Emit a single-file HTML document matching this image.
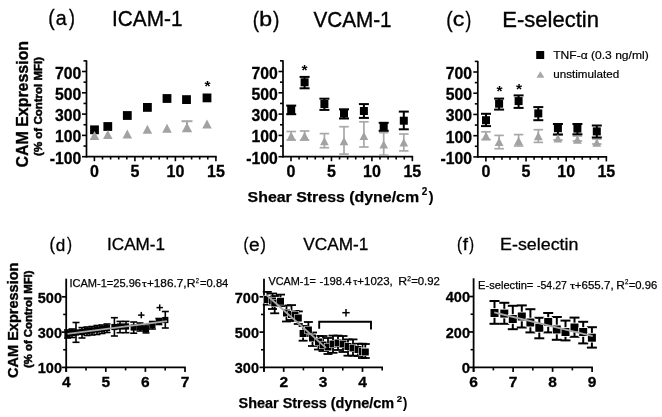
<!DOCTYPE html>
<html><head><meta charset="utf-8"><style>
html,body{margin:0;padding:0;background:#fff;}
svg{display:block;font-family:"Liberation Sans", sans-serif;will-change:transform;}
</style></head><body>
<svg width="662" height="417" viewBox="0 0 662 417">
<rect width="662" height="417" fill="#fff"/>
<line x1="86.50" y1="60.35" x2="86.50" y2="157.50" stroke="#000" stroke-width="1.7"/>
<line x1="85.70" y1="156.70" x2="216.70" y2="156.70" stroke="#000" stroke-width="1.7"/>
<line x1="82.00" y1="156.70" x2="86.50" y2="156.70" stroke="#000" stroke-width="1.6"/>
<line x1="83.50" y1="146.05" x2="86.50" y2="146.05" stroke="#000" stroke-width="1.6"/>
<line x1="82.00" y1="135.40" x2="86.50" y2="135.40" stroke="#000" stroke-width="1.6"/>
<line x1="83.50" y1="124.75" x2="86.50" y2="124.75" stroke="#000" stroke-width="1.6"/>
<line x1="82.00" y1="114.10" x2="86.50" y2="114.10" stroke="#000" stroke-width="1.6"/>
<line x1="83.50" y1="103.45" x2="86.50" y2="103.45" stroke="#000" stroke-width="1.6"/>
<line x1="82.00" y1="92.80" x2="86.50" y2="92.80" stroke="#000" stroke-width="1.6"/>
<line x1="83.50" y1="82.15" x2="86.50" y2="82.15" stroke="#000" stroke-width="1.6"/>
<line x1="82.00" y1="71.50" x2="86.50" y2="71.50" stroke="#000" stroke-width="1.6"/>
<line x1="83.50" y1="60.85" x2="86.50" y2="60.85" stroke="#000" stroke-width="1.6"/>
<line x1="94.40" y1="156.70" x2="94.40" y2="161.20" stroke="#000" stroke-width="1.6"/>
<line x1="102.50" y1="156.70" x2="102.50" y2="159.50" stroke="#000" stroke-width="1.6"/>
<line x1="110.60" y1="156.70" x2="110.60" y2="159.50" stroke="#000" stroke-width="1.6"/>
<line x1="118.70" y1="156.70" x2="118.70" y2="159.50" stroke="#000" stroke-width="1.6"/>
<line x1="126.80" y1="156.70" x2="126.80" y2="159.50" stroke="#000" stroke-width="1.6"/>
<line x1="134.90" y1="156.70" x2="134.90" y2="161.20" stroke="#000" stroke-width="1.6"/>
<line x1="143.00" y1="156.70" x2="143.00" y2="159.50" stroke="#000" stroke-width="1.6"/>
<line x1="151.10" y1="156.70" x2="151.10" y2="159.50" stroke="#000" stroke-width="1.6"/>
<line x1="159.20" y1="156.70" x2="159.20" y2="159.50" stroke="#000" stroke-width="1.6"/>
<line x1="167.30" y1="156.70" x2="167.30" y2="159.50" stroke="#000" stroke-width="1.6"/>
<line x1="175.40" y1="156.70" x2="175.40" y2="161.20" stroke="#000" stroke-width="1.6"/>
<line x1="183.50" y1="156.70" x2="183.50" y2="159.50" stroke="#000" stroke-width="1.6"/>
<line x1="191.60" y1="156.70" x2="191.60" y2="159.50" stroke="#000" stroke-width="1.6"/>
<line x1="199.70" y1="156.70" x2="199.70" y2="159.50" stroke="#000" stroke-width="1.6"/>
<line x1="207.80" y1="156.70" x2="207.80" y2="159.50" stroke="#000" stroke-width="1.6"/>
<line x1="215.90" y1="156.70" x2="215.90" y2="161.20" stroke="#000" stroke-width="1.6"/>
<text x="81.3" y="78.5" font-size="16" font-weight="bold" text-anchor="end" textLength="26.3" lengthAdjust="spacingAndGlyphs" fill="#000" stroke="#000" stroke-width="0.3">700</text>
<text x="81.3" y="99.8" font-size="16" font-weight="bold" text-anchor="end" textLength="26.3" lengthAdjust="spacingAndGlyphs" fill="#000" stroke="#000" stroke-width="0.3">500</text>
<text x="81.3" y="121.1" font-size="16" font-weight="bold" text-anchor="end" textLength="26.3" lengthAdjust="spacingAndGlyphs" fill="#000" stroke="#000" stroke-width="0.3">300</text>
<text x="81.3" y="142.4" font-size="16" font-weight="bold" text-anchor="end" textLength="26.3" lengthAdjust="spacingAndGlyphs" fill="#000" stroke="#000" stroke-width="0.3">100</text>
<text x="81.3" y="163.7" font-size="16" font-weight="bold" text-anchor="end" textLength="31.5" lengthAdjust="spacingAndGlyphs" fill="#000" stroke="#000" stroke-width="0.3">-100</text>
<text x="94.4" y="177.4" font-size="16" font-weight="bold" text-anchor="middle" fill="#000" stroke="#000" stroke-width="0.3">0</text>
<text x="134.9" y="177.4" font-size="16" font-weight="bold" text-anchor="middle" fill="#000" stroke="#000" stroke-width="0.3">5</text>
<text x="175.4" y="177.4" font-size="16" font-weight="bold" text-anchor="middle" fill="#000" stroke="#000" stroke-width="0.3">10</text>
<text x="215.9" y="177.4" font-size="16" font-weight="bold" text-anchor="middle" fill="#000" stroke="#000" stroke-width="0.3">15</text>
<line x1="187.00" y1="121.20" x2="187.00" y2="126.00" stroke="#a8a8a8" stroke-width="2"/>
<line x1="181.50" y1="121.20" x2="192.50" y2="121.20" stroke="#a8a8a8" stroke-width="2"/>
<rect x="90.10" y="125.40" width="8.8" height="8.8" fill="#000"/>
<rect x="103.40" y="122.10" width="8.8" height="8.8" fill="#000"/>
<rect x="122.90" y="111.10" width="8.8" height="8.8" fill="#000"/>
<rect x="143.00" y="103.00" width="8.8" height="8.8" fill="#000"/>
<rect x="162.60" y="94.10" width="8.8" height="8.8" fill="#000"/>
<rect x="182.10" y="95.20" width="8.8" height="8.8" fill="#000"/>
<rect x="202.60" y="93.50" width="8.8" height="8.8" fill="#000"/>
<polygon points="89.75,140.00 99.25,140.00 94.50,131.00" fill="#a2a2a2"/>
<polygon points="103.05,139.00 112.55,139.00 107.80,130.00" fill="#a2a2a2"/>
<polygon points="122.55,138.50 132.05,138.50 127.30,129.50" fill="#a2a2a2"/>
<polygon points="142.65,133.70 152.15,133.70 147.40,124.70" fill="#a2a2a2"/>
<polygon points="162.25,132.70 171.75,132.70 167.00,123.70" fill="#a2a2a2"/>
<polygon points="181.75,132.25 192.25,132.25 187.00,122.75" fill="#a2a2a2"/>
<polygon points="202.25,128.40 211.75,128.40 207.00,119.40" fill="#a2a2a2"/>
<text x="207.4" y="91.1" font-size="15.5" font-weight="bold" text-anchor="middle" fill="#000">*</text>
<line x1="283.00" y1="60.35" x2="283.00" y2="157.50" stroke="#000" stroke-width="1.7"/>
<line x1="282.20" y1="156.70" x2="413.15" y2="156.70" stroke="#000" stroke-width="1.7"/>
<line x1="278.50" y1="156.70" x2="283.00" y2="156.70" stroke="#000" stroke-width="1.6"/>
<line x1="280.00" y1="146.05" x2="283.00" y2="146.05" stroke="#000" stroke-width="1.6"/>
<line x1="278.50" y1="135.40" x2="283.00" y2="135.40" stroke="#000" stroke-width="1.6"/>
<line x1="280.00" y1="124.75" x2="283.00" y2="124.75" stroke="#000" stroke-width="1.6"/>
<line x1="278.50" y1="114.10" x2="283.00" y2="114.10" stroke="#000" stroke-width="1.6"/>
<line x1="280.00" y1="103.45" x2="283.00" y2="103.45" stroke="#000" stroke-width="1.6"/>
<line x1="278.50" y1="92.80" x2="283.00" y2="92.80" stroke="#000" stroke-width="1.6"/>
<line x1="280.00" y1="82.15" x2="283.00" y2="82.15" stroke="#000" stroke-width="1.6"/>
<line x1="278.50" y1="71.50" x2="283.00" y2="71.50" stroke="#000" stroke-width="1.6"/>
<line x1="280.00" y1="60.85" x2="283.00" y2="60.85" stroke="#000" stroke-width="1.6"/>
<line x1="291.00" y1="156.70" x2="291.00" y2="161.20" stroke="#000" stroke-width="1.6"/>
<line x1="299.09" y1="156.70" x2="299.09" y2="159.50" stroke="#000" stroke-width="1.6"/>
<line x1="307.18" y1="156.70" x2="307.18" y2="159.50" stroke="#000" stroke-width="1.6"/>
<line x1="315.27" y1="156.70" x2="315.27" y2="159.50" stroke="#000" stroke-width="1.6"/>
<line x1="323.36" y1="156.70" x2="323.36" y2="159.50" stroke="#000" stroke-width="1.6"/>
<line x1="331.45" y1="156.70" x2="331.45" y2="161.20" stroke="#000" stroke-width="1.6"/>
<line x1="339.54" y1="156.70" x2="339.54" y2="159.50" stroke="#000" stroke-width="1.6"/>
<line x1="347.63" y1="156.70" x2="347.63" y2="159.50" stroke="#000" stroke-width="1.6"/>
<line x1="355.72" y1="156.70" x2="355.72" y2="159.50" stroke="#000" stroke-width="1.6"/>
<line x1="363.81" y1="156.70" x2="363.81" y2="159.50" stroke="#000" stroke-width="1.6"/>
<line x1="371.90" y1="156.70" x2="371.90" y2="161.20" stroke="#000" stroke-width="1.6"/>
<line x1="379.99" y1="156.70" x2="379.99" y2="159.50" stroke="#000" stroke-width="1.6"/>
<line x1="388.08" y1="156.70" x2="388.08" y2="159.50" stroke="#000" stroke-width="1.6"/>
<line x1="396.17" y1="156.70" x2="396.17" y2="159.50" stroke="#000" stroke-width="1.6"/>
<line x1="404.26" y1="156.70" x2="404.26" y2="159.50" stroke="#000" stroke-width="1.6"/>
<line x1="412.35" y1="156.70" x2="412.35" y2="161.20" stroke="#000" stroke-width="1.6"/>
<text x="277.8" y="78.5" font-size="16" font-weight="bold" text-anchor="end" textLength="26.3" lengthAdjust="spacingAndGlyphs" fill="#000" stroke="#000" stroke-width="0.3">700</text>
<text x="277.8" y="99.8" font-size="16" font-weight="bold" text-anchor="end" textLength="26.3" lengthAdjust="spacingAndGlyphs" fill="#000" stroke="#000" stroke-width="0.3">500</text>
<text x="277.8" y="121.1" font-size="16" font-weight="bold" text-anchor="end" textLength="26.3" lengthAdjust="spacingAndGlyphs" fill="#000" stroke="#000" stroke-width="0.3">300</text>
<text x="277.8" y="142.4" font-size="16" font-weight="bold" text-anchor="end" textLength="26.3" lengthAdjust="spacingAndGlyphs" fill="#000" stroke="#000" stroke-width="0.3">100</text>
<text x="277.8" y="163.7" font-size="16" font-weight="bold" text-anchor="end" textLength="31.5" lengthAdjust="spacingAndGlyphs" fill="#000" stroke="#000" stroke-width="0.3">-100</text>
<text x="291.0" y="177.4" font-size="16" font-weight="bold" text-anchor="middle" fill="#000" stroke="#000" stroke-width="0.3">0</text>
<text x="331.45" y="177.4" font-size="16" font-weight="bold" text-anchor="middle" fill="#000" stroke="#000" stroke-width="0.3">5</text>
<text x="371.9" y="177.4" font-size="16" font-weight="bold" text-anchor="middle" fill="#000" stroke="#000" stroke-width="0.3">10</text>
<text x="412.35" y="177.4" font-size="16" font-weight="bold" text-anchor="middle" fill="#000" stroke="#000" stroke-width="0.3">15</text>
<line x1="291.20" y1="131.50" x2="291.20" y2="140.10" stroke="#a8a8a8" stroke-width="1.7"/>
<line x1="286.45" y1="131.50" x2="295.95" y2="131.50" stroke="#a8a8a8" stroke-width="1.7"/>
<line x1="286.45" y1="140.10" x2="295.95" y2="140.10" stroke="#a8a8a8" stroke-width="1.7"/>
<line x1="304.60" y1="131.00" x2="304.60" y2="140.10" stroke="#a8a8a8" stroke-width="1.7"/>
<line x1="299.85" y1="131.00" x2="309.35" y2="131.00" stroke="#a8a8a8" stroke-width="1.7"/>
<line x1="299.85" y1="140.10" x2="309.35" y2="140.10" stroke="#a8a8a8" stroke-width="1.7"/>
<line x1="324.40" y1="133.60" x2="324.40" y2="147.70" stroke="#a8a8a8" stroke-width="1.7"/>
<line x1="319.65" y1="133.60" x2="329.15" y2="133.60" stroke="#a8a8a8" stroke-width="1.7"/>
<line x1="319.65" y1="147.70" x2="329.15" y2="147.70" stroke="#a8a8a8" stroke-width="1.7"/>
<line x1="344.00" y1="126.70" x2="344.00" y2="154.10" stroke="#a8a8a8" stroke-width="1.7"/>
<line x1="339.25" y1="126.70" x2="348.75" y2="126.70" stroke="#a8a8a8" stroke-width="1.7"/>
<line x1="339.25" y1="154.10" x2="348.75" y2="154.10" stroke="#a8a8a8" stroke-width="1.7"/>
<line x1="363.90" y1="121.80" x2="363.90" y2="147.00" stroke="#a8a8a8" stroke-width="1.7"/>
<line x1="359.15" y1="121.80" x2="368.65" y2="121.80" stroke="#a8a8a8" stroke-width="1.7"/>
<line x1="359.15" y1="147.00" x2="368.65" y2="147.00" stroke="#a8a8a8" stroke-width="1.7"/>
<line x1="383.70" y1="132.60" x2="383.70" y2="155.20" stroke="#a8a8a8" stroke-width="1.7"/>
<line x1="378.95" y1="132.60" x2="388.45" y2="132.60" stroke="#a8a8a8" stroke-width="1.7"/>
<line x1="378.95" y1="155.20" x2="388.45" y2="155.20" stroke="#a8a8a8" stroke-width="1.7"/>
<line x1="403.80" y1="134.00" x2="403.80" y2="150.90" stroke="#a8a8a8" stroke-width="1.7"/>
<line x1="399.05" y1="134.00" x2="408.55" y2="134.00" stroke="#a8a8a8" stroke-width="1.7"/>
<line x1="399.05" y1="150.90" x2="408.55" y2="150.90" stroke="#a8a8a8" stroke-width="1.7"/>
<rect x="286.40" y="105.10" width="9.6" height="9.6" fill="#fff"/>
<rect x="287.20" y="105.90" width="8.0" height="8.0" fill="#000"/>
<rect x="299.80" y="77.50" width="9.6" height="9.6" fill="#fff"/>
<rect x="300.60" y="78.30" width="8.0" height="8.0" fill="#000"/>
<rect x="319.60" y="99.20" width="9.6" height="9.6" fill="#fff"/>
<rect x="320.40" y="100.00" width="8.0" height="8.0" fill="#000"/>
<rect x="339.20" y="108.80" width="9.6" height="9.6" fill="#fff"/>
<rect x="340.00" y="109.60" width="8.0" height="8.0" fill="#000"/>
<rect x="359.10" y="106.20" width="9.6" height="9.6" fill="#fff"/>
<rect x="359.90" y="107.00" width="8.0" height="8.0" fill="#000"/>
<rect x="378.90" y="121.70" width="9.6" height="9.6" fill="#fff"/>
<rect x="379.70" y="122.50" width="8.0" height="8.0" fill="#000"/>
<rect x="399.00" y="115.90" width="9.6" height="9.6" fill="#fff"/>
<rect x="399.80" y="116.70" width="8.0" height="8.0" fill="#000"/>
<line x1="291.20" y1="105.60" x2="291.20" y2="114.20" stroke="#000" stroke-width="2"/>
<line x1="286.20" y1="105.60" x2="296.20" y2="105.60" stroke="#000" stroke-width="2"/>
<line x1="286.20" y1="114.20" x2="296.20" y2="114.20" stroke="#000" stroke-width="2"/>
<line x1="304.60" y1="76.90" x2="304.60" y2="88.30" stroke="#000" stroke-width="2"/>
<line x1="299.60" y1="76.90" x2="309.60" y2="76.90" stroke="#000" stroke-width="2"/>
<line x1="299.60" y1="88.30" x2="309.60" y2="88.30" stroke="#000" stroke-width="2"/>
<line x1="324.40" y1="98.70" x2="324.40" y2="109.90" stroke="#000" stroke-width="2"/>
<line x1="319.40" y1="98.70" x2="329.40" y2="98.70" stroke="#000" stroke-width="2"/>
<line x1="319.40" y1="109.90" x2="329.40" y2="109.90" stroke="#000" stroke-width="2"/>
<line x1="344.00" y1="109.30" x2="344.00" y2="118.50" stroke="#000" stroke-width="2"/>
<line x1="339.00" y1="109.30" x2="349.00" y2="109.30" stroke="#000" stroke-width="2"/>
<line x1="339.00" y1="118.50" x2="349.00" y2="118.50" stroke="#000" stroke-width="2"/>
<line x1="363.90" y1="104.10" x2="363.90" y2="117.90" stroke="#000" stroke-width="2"/>
<line x1="358.90" y1="104.10" x2="368.90" y2="104.10" stroke="#000" stroke-width="2"/>
<line x1="358.90" y1="117.90" x2="368.90" y2="117.90" stroke="#000" stroke-width="2"/>
<line x1="383.70" y1="122.80" x2="383.70" y2="130.80" stroke="#000" stroke-width="2"/>
<line x1="378.70" y1="122.80" x2="388.70" y2="122.80" stroke="#000" stroke-width="2"/>
<line x1="378.70" y1="130.80" x2="388.70" y2="130.80" stroke="#000" stroke-width="2"/>
<line x1="403.80" y1="111.60" x2="403.80" y2="129.30" stroke="#000" stroke-width="2"/>
<line x1="398.80" y1="111.60" x2="408.80" y2="111.60" stroke="#000" stroke-width="2"/>
<line x1="398.80" y1="129.30" x2="408.80" y2="129.30" stroke="#000" stroke-width="2"/>
<polygon points="286.90,139.90 295.50,139.90 291.20,131.70" fill="#a2a2a2"/>
<polygon points="300.30,139.90 308.90,139.90 304.60,131.70" fill="#a2a2a2"/>
<polygon points="320.10,145.30 328.70,145.30 324.40,137.10" fill="#a2a2a2"/>
<polygon points="339.70,145.30 348.30,145.30 344.00,137.10" fill="#a2a2a2"/>
<polygon points="359.60,139.90 368.20,139.90 363.90,131.70" fill="#a2a2a2"/>
<polygon points="379.40,148.50 388.00,148.50 383.70,140.30" fill="#a2a2a2"/>
<polygon points="399.50,146.40 408.10,146.40 403.80,138.20" fill="#a2a2a2"/>
<text x="304.4" y="75.0" font-size="15.5" font-weight="bold" text-anchor="middle" fill="#000">*</text>
<line x1="477.80" y1="60.89" x2="477.80" y2="157.70" stroke="#000" stroke-width="1.7"/>
<line x1="477.00" y1="156.90" x2="607.15" y2="156.90" stroke="#000" stroke-width="1.7"/>
<line x1="473.30" y1="156.90" x2="477.80" y2="156.90" stroke="#000" stroke-width="1.6"/>
<line x1="474.80" y1="146.29" x2="477.80" y2="146.29" stroke="#000" stroke-width="1.6"/>
<line x1="473.30" y1="135.68" x2="477.80" y2="135.68" stroke="#000" stroke-width="1.6"/>
<line x1="474.80" y1="125.06" x2="477.80" y2="125.06" stroke="#000" stroke-width="1.6"/>
<line x1="473.30" y1="114.45" x2="477.80" y2="114.45" stroke="#000" stroke-width="1.6"/>
<line x1="474.80" y1="103.84" x2="477.80" y2="103.84" stroke="#000" stroke-width="1.6"/>
<line x1="473.30" y1="93.22" x2="477.80" y2="93.22" stroke="#000" stroke-width="1.6"/>
<line x1="474.80" y1="82.61" x2="477.80" y2="82.61" stroke="#000" stroke-width="1.6"/>
<line x1="473.30" y1="72.00" x2="477.80" y2="72.00" stroke="#000" stroke-width="1.6"/>
<line x1="474.80" y1="61.39" x2="477.80" y2="61.39" stroke="#000" stroke-width="1.6"/>
<line x1="485.90" y1="156.90" x2="485.90" y2="161.40" stroke="#000" stroke-width="1.6"/>
<line x1="493.93" y1="156.90" x2="493.93" y2="159.70" stroke="#000" stroke-width="1.6"/>
<line x1="501.96" y1="156.90" x2="501.96" y2="159.70" stroke="#000" stroke-width="1.6"/>
<line x1="509.99" y1="156.90" x2="509.99" y2="159.70" stroke="#000" stroke-width="1.6"/>
<line x1="518.02" y1="156.90" x2="518.02" y2="159.70" stroke="#000" stroke-width="1.6"/>
<line x1="526.05" y1="156.90" x2="526.05" y2="161.40" stroke="#000" stroke-width="1.6"/>
<line x1="534.08" y1="156.90" x2="534.08" y2="159.70" stroke="#000" stroke-width="1.6"/>
<line x1="542.11" y1="156.90" x2="542.11" y2="159.70" stroke="#000" stroke-width="1.6"/>
<line x1="550.14" y1="156.90" x2="550.14" y2="159.70" stroke="#000" stroke-width="1.6"/>
<line x1="558.17" y1="156.90" x2="558.17" y2="159.70" stroke="#000" stroke-width="1.6"/>
<line x1="566.20" y1="156.90" x2="566.20" y2="161.40" stroke="#000" stroke-width="1.6"/>
<line x1="574.23" y1="156.90" x2="574.23" y2="159.70" stroke="#000" stroke-width="1.6"/>
<line x1="582.26" y1="156.90" x2="582.26" y2="159.70" stroke="#000" stroke-width="1.6"/>
<line x1="590.29" y1="156.90" x2="590.29" y2="159.70" stroke="#000" stroke-width="1.6"/>
<line x1="598.32" y1="156.90" x2="598.32" y2="159.70" stroke="#000" stroke-width="1.6"/>
<line x1="606.35" y1="156.90" x2="606.35" y2="161.40" stroke="#000" stroke-width="1.6"/>
<text x="472.0" y="79.0" font-size="16" font-weight="bold" text-anchor="end" textLength="26.3" lengthAdjust="spacingAndGlyphs" fill="#000" stroke="#000" stroke-width="0.3">700</text>
<text x="472.0" y="100.22" font-size="16" font-weight="bold" text-anchor="end" textLength="26.3" lengthAdjust="spacingAndGlyphs" fill="#000" stroke="#000" stroke-width="0.3">500</text>
<text x="472.0" y="121.45" font-size="16" font-weight="bold" text-anchor="end" textLength="26.3" lengthAdjust="spacingAndGlyphs" fill="#000" stroke="#000" stroke-width="0.3">300</text>
<text x="472.0" y="142.68" font-size="16" font-weight="bold" text-anchor="end" textLength="26.3" lengthAdjust="spacingAndGlyphs" fill="#000" stroke="#000" stroke-width="0.3">100</text>
<text x="472.0" y="163.9" font-size="16" font-weight="bold" text-anchor="end" textLength="31.5" lengthAdjust="spacingAndGlyphs" fill="#000" stroke="#000" stroke-width="0.3">-100</text>
<text x="485.9" y="177.4" font-size="16" font-weight="bold" text-anchor="middle" fill="#000" stroke="#000" stroke-width="0.3">0</text>
<text x="526.05" y="177.4" font-size="16" font-weight="bold" text-anchor="middle" fill="#000" stroke="#000" stroke-width="0.3">5</text>
<text x="566.2" y="177.4" font-size="16" font-weight="bold" text-anchor="middle" fill="#000" stroke="#000" stroke-width="0.3">10</text>
<text x="606.35" y="177.4" font-size="16" font-weight="bold" text-anchor="middle" fill="#000" stroke="#000" stroke-width="0.3">15</text>
<line x1="486.00" y1="131.80" x2="486.00" y2="139.60" stroke="#a8a8a8" stroke-width="1.7"/>
<line x1="481.25" y1="131.80" x2="490.75" y2="131.80" stroke="#a8a8a8" stroke-width="1.7"/>
<line x1="481.25" y1="139.60" x2="490.75" y2="139.60" stroke="#a8a8a8" stroke-width="1.7"/>
<line x1="499.10" y1="135.40" x2="499.10" y2="148.70" stroke="#a8a8a8" stroke-width="1.7"/>
<line x1="494.35" y1="135.40" x2="503.85" y2="135.40" stroke="#a8a8a8" stroke-width="1.7"/>
<line x1="494.35" y1="148.70" x2="503.85" y2="148.70" stroke="#a8a8a8" stroke-width="1.7"/>
<line x1="518.60" y1="134.60" x2="518.60" y2="146.00" stroke="#a8a8a8" stroke-width="1.7"/>
<line x1="513.85" y1="134.60" x2="523.35" y2="134.60" stroke="#a8a8a8" stroke-width="1.7"/>
<line x1="513.85" y1="146.00" x2="523.35" y2="146.00" stroke="#a8a8a8" stroke-width="1.7"/>
<line x1="538.30" y1="129.70" x2="538.30" y2="142.40" stroke="#a8a8a8" stroke-width="1.7"/>
<line x1="533.55" y1="129.70" x2="543.05" y2="129.70" stroke="#a8a8a8" stroke-width="1.7"/>
<line x1="533.55" y1="142.40" x2="543.05" y2="142.40" stroke="#a8a8a8" stroke-width="1.7"/>
<line x1="557.90" y1="133.00" x2="557.90" y2="140.00" stroke="#a8a8a8" stroke-width="1.7"/>
<line x1="553.15" y1="133.00" x2="562.65" y2="133.00" stroke="#a8a8a8" stroke-width="1.7"/>
<line x1="553.15" y1="140.00" x2="562.65" y2="140.00" stroke="#a8a8a8" stroke-width="1.7"/>
<line x1="577.40" y1="136.00" x2="577.40" y2="141.00" stroke="#a8a8a8" stroke-width="1.7"/>
<line x1="572.65" y1="136.00" x2="582.15" y2="136.00" stroke="#a8a8a8" stroke-width="1.7"/>
<line x1="572.65" y1="141.00" x2="582.15" y2="141.00" stroke="#a8a8a8" stroke-width="1.7"/>
<line x1="596.80" y1="139.00" x2="596.80" y2="144.00" stroke="#a8a8a8" stroke-width="1.7"/>
<line x1="592.05" y1="139.00" x2="601.55" y2="139.00" stroke="#a8a8a8" stroke-width="1.7"/>
<line x1="592.05" y1="144.00" x2="601.55" y2="144.00" stroke="#a8a8a8" stroke-width="1.7"/>
<rect x="481.20" y="115.40" width="9.6" height="9.6" fill="#fff"/>
<rect x="482.00" y="116.20" width="8.0" height="8.0" fill="#000"/>
<rect x="494.30" y="98.90" width="9.6" height="9.6" fill="#fff"/>
<rect x="495.10" y="99.70" width="8.0" height="8.0" fill="#000"/>
<rect x="513.80" y="96.30" width="9.6" height="9.6" fill="#fff"/>
<rect x="514.60" y="97.10" width="8.0" height="8.0" fill="#000"/>
<rect x="533.50" y="108.60" width="9.6" height="9.6" fill="#fff"/>
<rect x="534.30" y="109.40" width="8.0" height="8.0" fill="#000"/>
<rect x="553.10" y="123.40" width="9.6" height="9.6" fill="#fff"/>
<rect x="553.90" y="124.20" width="8.0" height="8.0" fill="#000"/>
<rect x="572.60" y="123.80" width="9.6" height="9.6" fill="#fff"/>
<rect x="573.40" y="124.60" width="8.0" height="8.0" fill="#000"/>
<rect x="592.00" y="126.60" width="9.6" height="9.6" fill="#fff"/>
<rect x="592.80" y="127.40" width="8.0" height="8.0" fill="#000"/>
<line x1="486.00" y1="113.80" x2="486.00" y2="126.10" stroke="#000" stroke-width="2"/>
<line x1="481.00" y1="113.80" x2="491.00" y2="113.80" stroke="#000" stroke-width="2"/>
<line x1="481.00" y1="126.10" x2="491.00" y2="126.10" stroke="#000" stroke-width="2"/>
<line x1="499.10" y1="98.60" x2="499.10" y2="109.60" stroke="#000" stroke-width="2"/>
<line x1="494.10" y1="98.60" x2="504.10" y2="98.60" stroke="#000" stroke-width="2"/>
<line x1="494.10" y1="109.60" x2="504.10" y2="109.60" stroke="#000" stroke-width="2"/>
<line x1="518.60" y1="95.40" x2="518.60" y2="107.90" stroke="#000" stroke-width="2"/>
<line x1="513.60" y1="95.40" x2="523.60" y2="95.40" stroke="#000" stroke-width="2"/>
<line x1="513.60" y1="107.90" x2="523.60" y2="107.90" stroke="#000" stroke-width="2"/>
<line x1="538.30" y1="107.10" x2="538.30" y2="120.20" stroke="#000" stroke-width="2"/>
<line x1="533.30" y1="107.10" x2="543.30" y2="107.10" stroke="#000" stroke-width="2"/>
<line x1="533.30" y1="120.20" x2="543.30" y2="120.20" stroke="#000" stroke-width="2"/>
<line x1="557.90" y1="124.00" x2="557.90" y2="134.60" stroke="#000" stroke-width="2"/>
<line x1="552.90" y1="124.00" x2="562.90" y2="124.00" stroke="#000" stroke-width="2"/>
<line x1="552.90" y1="134.60" x2="562.90" y2="134.60" stroke="#000" stroke-width="2"/>
<line x1="577.40" y1="124.00" x2="577.40" y2="134.30" stroke="#000" stroke-width="2"/>
<line x1="572.40" y1="124.00" x2="582.40" y2="124.00" stroke="#000" stroke-width="2"/>
<line x1="572.40" y1="134.30" x2="582.40" y2="134.30" stroke="#000" stroke-width="2"/>
<line x1="596.80" y1="125.50" x2="596.80" y2="137.50" stroke="#000" stroke-width="2"/>
<line x1="591.80" y1="125.50" x2="601.80" y2="125.50" stroke="#000" stroke-width="2"/>
<line x1="591.80" y1="137.50" x2="601.80" y2="137.50" stroke="#000" stroke-width="2"/>
<polygon points="481.60,140.20 490.40,140.20 486.00,131.80" fill="#a2a2a2"/>
<polygon points="494.70,145.90 503.50,145.90 499.10,137.50" fill="#a2a2a2"/>
<polygon points="514.20,145.10 523.00,145.10 518.60,136.70" fill="#a2a2a2"/>
<polygon points="533.90,140.20 542.70,140.20 538.30,131.80" fill="#a2a2a2"/>
<polygon points="553.50,142.40 562.30,142.40 557.90,134.00" fill="#a2a2a2"/>
<polygon points="573.00,143.70 581.80,143.70 577.40,135.30" fill="#a2a2a2"/>
<polygon points="592.40,146.80 601.20,146.80 596.80,138.40" fill="#a2a2a2"/>
<text x="499.4" y="95.5" font-size="15.5" font-weight="bold" text-anchor="middle" fill="#000">*</text>
<text x="519.0" y="94.19999999999999" font-size="15.5" font-weight="bold" text-anchor="middle" fill="#000">*</text>
<rect x="536.20" y="51.00" width="8" height="8" fill="#000"/>
<text x="553.2" y="58.6" font-size="11.5" text-anchor="start" textLength="95.5" lengthAdjust="spacingAndGlyphs" fill="#000" stroke="#000" stroke-width="0.2">TNF-α (0.3 ng/ml)</text>
<polygon points="536.40,77.75 544.40,77.75 540.40,71.25" fill="#a8a8a8"/>
<text x="553.2" y="77.6" font-size="11.5" text-anchor="start" textLength="66" lengthAdjust="spacingAndGlyphs" fill="#000" stroke="#000" stroke-width="0.2">unstimulated</text>
<text x="48.15" y="24.9" font-size="21.93" text-anchor="start" textLength="6.41" lengthAdjust="spacingAndGlyphs" fill="#000" stroke="#000" stroke-width="0.35">(</text>
<text x="55.72" y="24.59" font-size="20.91" text-anchor="start" textLength="10.91" lengthAdjust="spacingAndGlyphs" fill="#000" stroke="#000" stroke-width="0.35">a</text>
<text x="69.01" y="24.9" font-size="21.93" text-anchor="start" textLength="5.91" lengthAdjust="spacingAndGlyphs" fill="#000" stroke="#000" stroke-width="0.35">)</text>
<text x="112.1" y="26.4" font-size="21.5" text-anchor="start" textLength="70.4" lengthAdjust="spacingAndGlyphs" fill="#000" stroke="#000" stroke-width="0.35">ICAM-1</text>
<text x="252.87" y="27.0" font-size="21.93" text-anchor="start" textLength="6.28" lengthAdjust="spacingAndGlyphs" fill="#000" stroke="#000" stroke-width="0.35">(</text>
<text x="259.3" y="26.4" font-size="19.59" text-anchor="start" textLength="12.85" lengthAdjust="spacingAndGlyphs" fill="#000" stroke="#000" stroke-width="0.35">b</text>
<text x="272.9" y="27.0" font-size="21.93" text-anchor="start" textLength="6.41" lengthAdjust="spacingAndGlyphs" fill="#000" stroke="#000" stroke-width="0.35">)</text>
<text x="313.4" y="26.8" font-size="21.5" text-anchor="start" textLength="78.2" lengthAdjust="spacingAndGlyphs" fill="#000" stroke="#000" stroke-width="0.35">VCAM-1</text>
<text x="446.15" y="26.93" font-size="22.25" text-anchor="start" textLength="6.41" lengthAdjust="spacingAndGlyphs" fill="#000" stroke="#000" stroke-width="0.35">(</text>
<text x="452.87" y="26.4" font-size="20.36" text-anchor="start" textLength="11.61" lengthAdjust="spacingAndGlyphs" fill="#000" stroke="#000" stroke-width="0.35">c</text>
<text x="465.61" y="26.93" font-size="22.25" text-anchor="start" textLength="5.78" lengthAdjust="spacingAndGlyphs" fill="#000" stroke="#000" stroke-width="0.35">)</text>
<text x="502.3" y="26.6" font-size="21.5" text-anchor="start" textLength="96.7" lengthAdjust="spacingAndGlyphs" fill="#000" stroke="#000" stroke-width="0.35">E-selectin</text>
<text x="28.4" y="167.5" font-size="16" font-weight="bold" text-anchor="start" textLength="126.6" lengthAdjust="spacingAndGlyphs" transform="rotate(-90 28.4 167.5)" fill="#000" stroke="#000" stroke-width="0.35">CAM Expression</text>
<text x="41.6" y="155.9" font-size="11.5" font-weight="bold" text-anchor="start" textLength="99" lengthAdjust="spacingAndGlyphs" transform="rotate(-90 41.6 155.9)" fill="#000" stroke="#000" stroke-width="0.5">(% of Control MFI)</text>
<text x="247.6" y="202.3" font-size="15.5" font-weight="bold" text-anchor="start" textLength="171.5" lengthAdjust="spacingAndGlyphs" fill="#000" stroke="#000" stroke-width="0.25">Shear Stress (dyne/cm</text>
<text x="421.7" y="194.5" font-size="10" font-weight="bold" text-anchor="start" fill="#000" stroke="#000" stroke-width="0.2">2</text>
<text x="428.4" y="202.3" font-size="15.5" font-weight="bold" text-anchor="start" fill="#000">)</text>
<line x1="66.20" y1="278.65" x2="66.20" y2="371.90" stroke="#000" stroke-width="1.8"/>
<line x1="65.40" y1="367.40" x2="185.80" y2="367.40" stroke="#000" stroke-width="1.8"/>
<line x1="61.70" y1="296.80" x2="66.20" y2="296.80" stroke="#000" stroke-width="1.7"/>
<line x1="61.70" y1="332.10" x2="66.20" y2="332.10" stroke="#000" stroke-width="1.7"/>
<line x1="61.70" y1="367.40" x2="66.20" y2="367.40" stroke="#000" stroke-width="1.7"/>
<line x1="63.20" y1="349.75" x2="66.20" y2="349.75" stroke="#000" stroke-width="1.6"/>
<line x1="63.20" y1="314.45" x2="66.20" y2="314.45" stroke="#000" stroke-width="1.6"/>
<line x1="66.20" y1="367.40" x2="66.20" y2="371.90" stroke="#000" stroke-width="1.7"/>
<line x1="105.80" y1="367.40" x2="105.80" y2="371.90" stroke="#000" stroke-width="1.7"/>
<line x1="145.40" y1="367.40" x2="145.40" y2="371.90" stroke="#000" stroke-width="1.7"/>
<line x1="185.00" y1="367.40" x2="185.00" y2="371.90" stroke="#000" stroke-width="1.7"/>
<line x1="86.00" y1="367.40" x2="86.00" y2="370.40" stroke="#000" stroke-width="1.6"/>
<line x1="125.60" y1="367.40" x2="125.60" y2="370.40" stroke="#000" stroke-width="1.6"/>
<line x1="165.20" y1="367.40" x2="165.20" y2="370.40" stroke="#000" stroke-width="1.6"/>
<text x="62.0" y="302.7" font-size="15.5" font-weight="bold" text-anchor="end" textLength="24.2" lengthAdjust="spacingAndGlyphs" fill="#000" stroke="#000" stroke-width="0.3">500</text>
<text x="62.0" y="338.0" font-size="15.5" font-weight="bold" text-anchor="end" textLength="24.2" lengthAdjust="spacingAndGlyphs" fill="#000" stroke="#000" stroke-width="0.3">300</text>
<text x="62.0" y="373.3" font-size="15.5" font-weight="bold" text-anchor="end" textLength="24.2" lengthAdjust="spacingAndGlyphs" fill="#000" stroke="#000" stroke-width="0.3">100</text>
<text x="66.2" y="386.9" font-size="15.5" font-weight="bold" text-anchor="middle" fill="#000" stroke="#000" stroke-width="0.3">4</text>
<text x="105.80000000000001" y="386.9" font-size="15.5" font-weight="bold" text-anchor="middle" fill="#000" stroke="#000" stroke-width="0.3">5</text>
<text x="145.4" y="386.9" font-size="15.5" font-weight="bold" text-anchor="middle" fill="#000" stroke="#000" stroke-width="0.3">6</text>
<text x="185.0" y="386.9" font-size="15.5" font-weight="bold" text-anchor="middle" fill="#000" stroke="#000" stroke-width="0.3">7</text>
<line x1="67.50" y1="330.00" x2="67.50" y2="338.00" stroke="#000" stroke-width="1.6"/>
<line x1="64.00" y1="330.00" x2="71.00" y2="330.00" stroke="#000" stroke-width="1.6"/>
<line x1="64.00" y1="338.00" x2="71.00" y2="338.00" stroke="#000" stroke-width="1.6"/>
<line x1="72.00" y1="329.00" x2="72.00" y2="337.50" stroke="#000" stroke-width="1.6"/>
<line x1="68.50" y1="329.00" x2="75.50" y2="329.00" stroke="#000" stroke-width="1.6"/>
<line x1="68.50" y1="337.50" x2="75.50" y2="337.50" stroke="#000" stroke-width="1.6"/>
<line x1="76.00" y1="322.50" x2="76.00" y2="342.30" stroke="#000" stroke-width="1.6"/>
<line x1="72.50" y1="322.50" x2="79.50" y2="322.50" stroke="#000" stroke-width="1.6"/>
<line x1="72.50" y1="342.30" x2="79.50" y2="342.30" stroke="#000" stroke-width="1.6"/>
<line x1="82.00" y1="327.60" x2="82.00" y2="338.00" stroke="#000" stroke-width="1.6"/>
<line x1="78.50" y1="327.60" x2="85.50" y2="327.60" stroke="#000" stroke-width="1.6"/>
<line x1="78.50" y1="338.00" x2="85.50" y2="338.00" stroke="#000" stroke-width="1.6"/>
<line x1="87.00" y1="327.00" x2="87.00" y2="335.50" stroke="#000" stroke-width="1.6"/>
<line x1="83.50" y1="327.00" x2="90.50" y2="327.00" stroke="#000" stroke-width="1.6"/>
<line x1="83.50" y1="335.50" x2="90.50" y2="335.50" stroke="#000" stroke-width="1.6"/>
<line x1="92.00" y1="326.50" x2="92.00" y2="335.00" stroke="#000" stroke-width="1.6"/>
<line x1="88.50" y1="326.50" x2="95.50" y2="326.50" stroke="#000" stroke-width="1.6"/>
<line x1="88.50" y1="335.00" x2="95.50" y2="335.00" stroke="#000" stroke-width="1.6"/>
<line x1="97.00" y1="325.50" x2="97.00" y2="334.50" stroke="#000" stroke-width="1.6"/>
<line x1="93.50" y1="325.50" x2="100.50" y2="325.50" stroke="#000" stroke-width="1.6"/>
<line x1="93.50" y1="334.50" x2="100.50" y2="334.50" stroke="#000" stroke-width="1.6"/>
<line x1="102.00" y1="325.00" x2="102.00" y2="333.50" stroke="#000" stroke-width="1.6"/>
<line x1="98.50" y1="325.00" x2="105.50" y2="325.00" stroke="#000" stroke-width="1.6"/>
<line x1="98.50" y1="333.50" x2="105.50" y2="333.50" stroke="#000" stroke-width="1.6"/>
<line x1="107.00" y1="324.00" x2="107.00" y2="332.50" stroke="#000" stroke-width="1.6"/>
<line x1="103.50" y1="324.00" x2="110.50" y2="324.00" stroke="#000" stroke-width="1.6"/>
<line x1="103.50" y1="332.50" x2="110.50" y2="332.50" stroke="#000" stroke-width="1.6"/>
<line x1="114.40" y1="317.70" x2="114.40" y2="336.00" stroke="#000" stroke-width="1.6"/>
<line x1="110.90" y1="317.70" x2="117.90" y2="317.70" stroke="#000" stroke-width="1.6"/>
<line x1="110.90" y1="336.00" x2="117.90" y2="336.00" stroke="#000" stroke-width="1.6"/>
<line x1="120.00" y1="321.40" x2="120.00" y2="332.70" stroke="#000" stroke-width="1.6"/>
<line x1="116.50" y1="321.40" x2="123.50" y2="321.40" stroke="#000" stroke-width="1.6"/>
<line x1="116.50" y1="332.70" x2="123.50" y2="332.70" stroke="#000" stroke-width="1.6"/>
<line x1="126.00" y1="321.40" x2="126.00" y2="332.70" stroke="#000" stroke-width="1.6"/>
<line x1="122.50" y1="321.40" x2="129.50" y2="321.40" stroke="#000" stroke-width="1.6"/>
<line x1="122.50" y1="332.70" x2="129.50" y2="332.70" stroke="#000" stroke-width="1.6"/>
<line x1="133.70" y1="322.00" x2="133.70" y2="333.20" stroke="#000" stroke-width="1.6"/>
<line x1="130.20" y1="322.00" x2="137.20" y2="322.00" stroke="#000" stroke-width="1.6"/>
<line x1="130.20" y1="333.20" x2="137.20" y2="333.20" stroke="#000" stroke-width="1.6"/>
<line x1="140.00" y1="323.00" x2="140.00" y2="331.00" stroke="#000" stroke-width="1.6"/>
<line x1="136.50" y1="323.00" x2="143.50" y2="323.00" stroke="#000" stroke-width="1.6"/>
<line x1="136.50" y1="331.00" x2="143.50" y2="331.00" stroke="#000" stroke-width="1.6"/>
<line x1="146.00" y1="325.00" x2="146.00" y2="332.90" stroke="#000" stroke-width="1.6"/>
<line x1="142.50" y1="325.00" x2="149.50" y2="325.00" stroke="#000" stroke-width="1.6"/>
<line x1="142.50" y1="332.90" x2="149.50" y2="332.90" stroke="#000" stroke-width="1.6"/>
<line x1="152.40" y1="321.50" x2="152.40" y2="329.00" stroke="#000" stroke-width="1.6"/>
<line x1="148.90" y1="321.50" x2="155.90" y2="321.50" stroke="#000" stroke-width="1.6"/>
<line x1="148.90" y1="329.00" x2="155.90" y2="329.00" stroke="#000" stroke-width="1.6"/>
<line x1="158.90" y1="318.50" x2="158.90" y2="324.50" stroke="#000" stroke-width="1.6"/>
<line x1="155.40" y1="318.50" x2="162.40" y2="318.50" stroke="#000" stroke-width="1.6"/>
<line x1="155.40" y1="324.50" x2="162.40" y2="324.50" stroke="#000" stroke-width="1.6"/>
<line x1="165.30" y1="311.50" x2="165.30" y2="328.00" stroke="#000" stroke-width="1.6"/>
<line x1="161.80" y1="311.50" x2="168.80" y2="311.50" stroke="#000" stroke-width="1.6"/>
<line x1="161.80" y1="328.00" x2="168.80" y2="328.00" stroke="#000" stroke-width="1.6"/>
<rect x="64.40" y="330.90" width="6.2" height="6.2" fill="#000"/>
<rect x="68.90" y="329.90" width="6.2" height="6.2" fill="#000"/>
<rect x="72.90" y="329.40" width="6.2" height="6.2" fill="#000"/>
<rect x="78.90" y="328.90" width="6.2" height="6.2" fill="#000"/>
<rect x="83.90" y="327.90" width="6.2" height="6.2" fill="#000"/>
<rect x="88.90" y="327.40" width="6.2" height="6.2" fill="#000"/>
<rect x="93.90" y="326.40" width="6.2" height="6.2" fill="#000"/>
<rect x="98.90" y="325.90" width="6.2" height="6.2" fill="#000"/>
<rect x="103.90" y="324.90" width="6.2" height="6.2" fill="#000"/>
<rect x="111.30" y="323.90" width="6.2" height="6.2" fill="#000"/>
<rect x="116.90" y="323.40" width="6.2" height="6.2" fill="#000"/>
<rect x="122.90" y="323.40" width="6.2" height="6.2" fill="#000"/>
<rect x="130.60" y="324.40" width="6.2" height="6.2" fill="#000"/>
<rect x="136.90" y="323.90" width="6.2" height="6.2" fill="#000"/>
<rect x="142.90" y="325.90" width="6.2" height="6.2" fill="#000"/>
<rect x="149.30" y="321.90" width="6.2" height="6.2" fill="#000"/>
<rect x="155.80" y="318.10" width="6.2" height="6.2" fill="#000"/>
<rect x="162.20" y="316.90" width="6.2" height="6.2" fill="#000"/>
<line x1="67.50" y1="333.80" x2="167.00" y2="321.20" stroke="#a8a8a8" stroke-width="1.8"/>
<line x1="138.10" y1="315.10" x2="144.50" y2="315.10" stroke="#000" stroke-width="1.5"/>
<line x1="141.30" y1="311.90" x2="141.30" y2="318.30" stroke="#000" stroke-width="1.5"/>
<line x1="156.50" y1="307.60" x2="162.90" y2="307.60" stroke="#000" stroke-width="1.5"/>
<line x1="159.70" y1="304.40" x2="159.70" y2="310.80" stroke="#000" stroke-width="1.5"/>
<text x="69.41" y="287.0" font-size="11.5" text-anchor="start" textLength="71.54" lengthAdjust="spacingAndGlyphs" fill="#000" stroke="#000" stroke-width="0.25">ICAM-1=25.96</text>
<text x="142.06" y="287.0" font-size="11" text-anchor="start" textLength="4.8" lengthAdjust="spacingAndGlyphs" fill="#000" font-family="Liberation Serif" stroke="#000" stroke-width="0.25">τ</text>
<text x="146.91" y="287.0" font-size="11.5" text-anchor="start" textLength="39.75" lengthAdjust="spacingAndGlyphs" fill="#000" stroke="#000" stroke-width="0.25">+186.7,</text>
<text x="186.72" y="287.0" font-size="11.5" text-anchor="start" textLength="8.86" lengthAdjust="spacingAndGlyphs" fill="#000" stroke="#000" stroke-width="0.25">R</text>
<text x="195.81" y="282.6" font-size="7.5" text-anchor="start" textLength="3.18" lengthAdjust="spacingAndGlyphs" fill="#000" stroke="#000" stroke-width="0.25">2</text>
<text x="200.04" y="287.0" font-size="11.5" text-anchor="start" textLength="28.3" lengthAdjust="spacingAndGlyphs" fill="#000" stroke="#000" stroke-width="0.25">=0.84</text>
<line x1="264.00" y1="278.65" x2="264.00" y2="371.90" stroke="#000" stroke-width="1.8"/>
<line x1="263.20" y1="367.40" x2="383.00" y2="367.40" stroke="#000" stroke-width="1.8"/>
<line x1="259.50" y1="296.80" x2="264.00" y2="296.80" stroke="#000" stroke-width="1.7"/>
<line x1="259.50" y1="332.10" x2="264.00" y2="332.10" stroke="#000" stroke-width="1.7"/>
<line x1="259.50" y1="367.40" x2="264.00" y2="367.40" stroke="#000" stroke-width="1.7"/>
<line x1="261.00" y1="349.75" x2="264.00" y2="349.75" stroke="#000" stroke-width="1.6"/>
<line x1="261.00" y1="314.45" x2="264.00" y2="314.45" stroke="#000" stroke-width="1.6"/>
<line x1="283.70" y1="367.40" x2="283.70" y2="371.90" stroke="#000" stroke-width="1.7"/>
<line x1="323.10" y1="367.40" x2="323.10" y2="371.90" stroke="#000" stroke-width="1.7"/>
<line x1="362.50" y1="367.40" x2="362.50" y2="371.90" stroke="#000" stroke-width="1.7"/>
<line x1="264.00" y1="367.40" x2="264.00" y2="370.40" stroke="#000" stroke-width="1.6"/>
<line x1="303.40" y1="367.40" x2="303.40" y2="370.40" stroke="#000" stroke-width="1.6"/>
<line x1="342.80" y1="367.40" x2="342.80" y2="370.40" stroke="#000" stroke-width="1.6"/>
<line x1="382.20" y1="367.40" x2="382.20" y2="370.40" stroke="#000" stroke-width="1.6"/>
<text x="259.0" y="302.7" font-size="15.5" font-weight="bold" text-anchor="end" textLength="24.2" lengthAdjust="spacingAndGlyphs" fill="#000" stroke="#000" stroke-width="0.3">700</text>
<text x="259.0" y="338.0" font-size="15.5" font-weight="bold" text-anchor="end" textLength="24.2" lengthAdjust="spacingAndGlyphs" fill="#000" stroke="#000" stroke-width="0.3">500</text>
<text x="259.0" y="373.3" font-size="15.5" font-weight="bold" text-anchor="end" textLength="24.2" lengthAdjust="spacingAndGlyphs" fill="#000" stroke="#000" stroke-width="0.3">300</text>
<text x="283.7" y="386.9" font-size="15.5" font-weight="bold" text-anchor="middle" fill="#000" stroke="#000" stroke-width="0.3">2</text>
<text x="323.1" y="386.9" font-size="15.5" font-weight="bold" text-anchor="middle" fill="#000" stroke="#000" stroke-width="0.3">3</text>
<text x="362.5" y="386.9" font-size="15.5" font-weight="bold" text-anchor="middle" fill="#000" stroke="#000" stroke-width="0.3">4</text>
<line x1="267.30" y1="291.90" x2="267.30" y2="304.70" stroke="#000" stroke-width="1.8"/>
<line x1="262.80" y1="291.90" x2="271.80" y2="291.90" stroke="#000" stroke-width="1.8"/>
<line x1="262.80" y1="304.70" x2="271.80" y2="304.70" stroke="#000" stroke-width="1.8"/>
<line x1="272.50" y1="293.50" x2="272.50" y2="309.00" stroke="#000" stroke-width="1.8"/>
<line x1="268.00" y1="293.50" x2="277.00" y2="293.50" stroke="#000" stroke-width="1.8"/>
<line x1="268.00" y1="309.00" x2="277.00" y2="309.00" stroke="#000" stroke-width="1.8"/>
<line x1="274.70" y1="296.00" x2="274.70" y2="313.30" stroke="#000" stroke-width="1.8"/>
<line x1="270.20" y1="296.00" x2="279.20" y2="296.00" stroke="#000" stroke-width="1.8"/>
<line x1="270.20" y1="313.30" x2="279.20" y2="313.30" stroke="#000" stroke-width="1.8"/>
<line x1="280.50" y1="294.60" x2="280.50" y2="306.00" stroke="#000" stroke-width="1.8"/>
<line x1="276.00" y1="294.60" x2="285.00" y2="294.60" stroke="#000" stroke-width="1.8"/>
<line x1="276.00" y1="306.00" x2="285.00" y2="306.00" stroke="#000" stroke-width="1.8"/>
<line x1="286.50" y1="305.50" x2="286.50" y2="321.50" stroke="#000" stroke-width="1.8"/>
<line x1="282.00" y1="305.50" x2="291.00" y2="305.50" stroke="#000" stroke-width="1.8"/>
<line x1="282.00" y1="321.50" x2="291.00" y2="321.50" stroke="#000" stroke-width="1.8"/>
<line x1="291.50" y1="305.10" x2="291.50" y2="320.00" stroke="#000" stroke-width="1.8"/>
<line x1="287.00" y1="305.10" x2="296.00" y2="305.10" stroke="#000" stroke-width="1.8"/>
<line x1="287.00" y1="320.00" x2="296.00" y2="320.00" stroke="#000" stroke-width="1.8"/>
<line x1="295.00" y1="310.90" x2="295.00" y2="321.00" stroke="#000" stroke-width="1.8"/>
<line x1="290.50" y1="310.90" x2="299.50" y2="310.90" stroke="#000" stroke-width="1.8"/>
<line x1="290.50" y1="321.00" x2="299.50" y2="321.00" stroke="#000" stroke-width="1.8"/>
<line x1="298.30" y1="311.40" x2="298.30" y2="324.00" stroke="#000" stroke-width="1.8"/>
<line x1="293.80" y1="311.40" x2="302.80" y2="311.40" stroke="#000" stroke-width="1.8"/>
<line x1="293.80" y1="324.00" x2="302.80" y2="324.00" stroke="#000" stroke-width="1.8"/>
<line x1="303.10" y1="326.00" x2="303.10" y2="340.70" stroke="#000" stroke-width="1.8"/>
<line x1="298.60" y1="326.00" x2="307.60" y2="326.00" stroke="#000" stroke-width="1.8"/>
<line x1="298.60" y1="340.70" x2="307.60" y2="340.70" stroke="#000" stroke-width="1.8"/>
<line x1="308.40" y1="322.00" x2="308.40" y2="336.00" stroke="#000" stroke-width="1.8"/>
<line x1="303.90" y1="322.00" x2="312.90" y2="322.00" stroke="#000" stroke-width="1.8"/>
<line x1="303.90" y1="336.00" x2="312.90" y2="336.00" stroke="#000" stroke-width="1.8"/>
<line x1="312.50" y1="332.50" x2="312.50" y2="346.00" stroke="#000" stroke-width="1.8"/>
<line x1="308.00" y1="332.50" x2="317.00" y2="332.50" stroke="#000" stroke-width="1.8"/>
<line x1="308.00" y1="346.00" x2="317.00" y2="346.00" stroke="#000" stroke-width="1.8"/>
<line x1="318.50" y1="335.90" x2="318.50" y2="349.50" stroke="#000" stroke-width="1.8"/>
<line x1="314.00" y1="335.90" x2="323.00" y2="335.90" stroke="#000" stroke-width="1.8"/>
<line x1="314.00" y1="349.50" x2="323.00" y2="349.50" stroke="#000" stroke-width="1.8"/>
<line x1="323.00" y1="336.00" x2="323.00" y2="351.00" stroke="#000" stroke-width="1.8"/>
<line x1="318.50" y1="336.00" x2="327.50" y2="336.00" stroke="#000" stroke-width="1.8"/>
<line x1="318.50" y1="351.00" x2="327.50" y2="351.00" stroke="#000" stroke-width="1.8"/>
<line x1="328.00" y1="338.00" x2="328.00" y2="354.00" stroke="#000" stroke-width="1.8"/>
<line x1="323.50" y1="338.00" x2="332.50" y2="338.00" stroke="#000" stroke-width="1.8"/>
<line x1="323.50" y1="354.00" x2="332.50" y2="354.00" stroke="#000" stroke-width="1.8"/>
<line x1="333.00" y1="335.60" x2="333.00" y2="352.80" stroke="#000" stroke-width="1.8"/>
<line x1="328.50" y1="335.60" x2="337.50" y2="335.60" stroke="#000" stroke-width="1.8"/>
<line x1="328.50" y1="352.80" x2="337.50" y2="352.80" stroke="#000" stroke-width="1.8"/>
<line x1="338.00" y1="335.60" x2="338.00" y2="350.00" stroke="#000" stroke-width="1.8"/>
<line x1="333.50" y1="335.60" x2="342.50" y2="335.60" stroke="#000" stroke-width="1.8"/>
<line x1="333.50" y1="350.00" x2="342.50" y2="350.00" stroke="#000" stroke-width="1.8"/>
<line x1="343.00" y1="336.00" x2="343.00" y2="352.00" stroke="#000" stroke-width="1.8"/>
<line x1="338.50" y1="336.00" x2="347.50" y2="336.00" stroke="#000" stroke-width="1.8"/>
<line x1="338.50" y1="352.00" x2="347.50" y2="352.00" stroke="#000" stroke-width="1.8"/>
<line x1="348.00" y1="339.40" x2="348.00" y2="355.70" stroke="#000" stroke-width="1.8"/>
<line x1="343.50" y1="339.40" x2="352.50" y2="339.40" stroke="#000" stroke-width="1.8"/>
<line x1="343.50" y1="355.70" x2="352.50" y2="355.70" stroke="#000" stroke-width="1.8"/>
<line x1="353.00" y1="339.40" x2="353.00" y2="355.70" stroke="#000" stroke-width="1.8"/>
<line x1="348.50" y1="339.40" x2="357.50" y2="339.40" stroke="#000" stroke-width="1.8"/>
<line x1="348.50" y1="355.70" x2="357.50" y2="355.70" stroke="#000" stroke-width="1.8"/>
<line x1="358.00" y1="343.70" x2="358.00" y2="356.00" stroke="#000" stroke-width="1.8"/>
<line x1="353.50" y1="343.70" x2="362.50" y2="343.70" stroke="#000" stroke-width="1.8"/>
<line x1="353.50" y1="356.00" x2="362.50" y2="356.00" stroke="#000" stroke-width="1.8"/>
<line x1="362.50" y1="343.70" x2="362.50" y2="358.00" stroke="#000" stroke-width="1.8"/>
<line x1="358.00" y1="343.70" x2="367.00" y2="343.70" stroke="#000" stroke-width="1.8"/>
<line x1="358.00" y1="358.00" x2="367.00" y2="358.00" stroke="#000" stroke-width="1.8"/>
<line x1="365.30" y1="344.00" x2="365.30" y2="358.00" stroke="#000" stroke-width="1.8"/>
<line x1="360.80" y1="344.00" x2="369.80" y2="344.00" stroke="#000" stroke-width="1.8"/>
<line x1="360.80" y1="358.00" x2="369.80" y2="358.00" stroke="#000" stroke-width="1.8"/>
<rect x="263.30" y="295.50" width="8.0" height="8.0" fill="#fff"/>
<rect x="263.80" y="296.00" width="7" height="7" fill="#000"/>
<rect x="268.50" y="297.00" width="8.0" height="8.0" fill="#fff"/>
<rect x="269.00" y="297.50" width="7" height="7" fill="#000"/>
<rect x="270.70" y="299.00" width="8.0" height="8.0" fill="#fff"/>
<rect x="271.20" y="299.50" width="7" height="7" fill="#000"/>
<rect x="276.50" y="297.30" width="8.0" height="8.0" fill="#fff"/>
<rect x="277.00" y="297.80" width="7" height="7" fill="#000"/>
<rect x="282.50" y="309.00" width="8.0" height="8.0" fill="#fff"/>
<rect x="283.00" y="309.50" width="7" height="7" fill="#000"/>
<rect x="287.50" y="310.50" width="8.0" height="8.0" fill="#fff"/>
<rect x="288.00" y="311.00" width="7" height="7" fill="#000"/>
<rect x="291.00" y="311.00" width="8.0" height="8.0" fill="#fff"/>
<rect x="291.50" y="311.50" width="7" height="7" fill="#000"/>
<rect x="294.30" y="314.00" width="8.0" height="8.0" fill="#fff"/>
<rect x="294.80" y="314.50" width="7" height="7" fill="#000"/>
<rect x="299.10" y="329.50" width="8.0" height="8.0" fill="#fff"/>
<rect x="299.60" y="330.00" width="7" height="7" fill="#000"/>
<rect x="304.40" y="326.00" width="8.0" height="8.0" fill="#fff"/>
<rect x="304.90" y="326.50" width="7" height="7" fill="#000"/>
<rect x="308.50" y="334.00" width="8.0" height="8.0" fill="#fff"/>
<rect x="309.00" y="334.50" width="7" height="7" fill="#000"/>
<rect x="314.50" y="338.00" width="8.0" height="8.0" fill="#fff"/>
<rect x="315.00" y="338.50" width="7" height="7" fill="#000"/>
<rect x="319.00" y="341.00" width="8.0" height="8.0" fill="#fff"/>
<rect x="319.50" y="341.50" width="7" height="7" fill="#000"/>
<rect x="324.00" y="343.00" width="8.0" height="8.0" fill="#fff"/>
<rect x="324.50" y="343.50" width="7" height="7" fill="#000"/>
<rect x="329.00" y="340.00" width="8.0" height="8.0" fill="#fff"/>
<rect x="329.50" y="340.50" width="7" height="7" fill="#000"/>
<rect x="334.00" y="339.00" width="8.0" height="8.0" fill="#fff"/>
<rect x="334.50" y="339.50" width="7" height="7" fill="#000"/>
<rect x="339.00" y="340.00" width="8.0" height="8.0" fill="#fff"/>
<rect x="339.50" y="340.50" width="7" height="7" fill="#000"/>
<rect x="344.00" y="342.50" width="8.0" height="8.0" fill="#fff"/>
<rect x="344.50" y="343.00" width="7" height="7" fill="#000"/>
<rect x="349.00" y="344.00" width="8.0" height="8.0" fill="#fff"/>
<rect x="349.50" y="344.50" width="7" height="7" fill="#000"/>
<rect x="354.00" y="345.50" width="8.0" height="8.0" fill="#fff"/>
<rect x="354.50" y="346.00" width="7" height="7" fill="#000"/>
<rect x="358.50" y="347.50" width="8.0" height="8.0" fill="#fff"/>
<rect x="359.00" y="348.00" width="7" height="7" fill="#000"/>
<rect x="361.30" y="348.00" width="8.0" height="8.0" fill="#fff"/>
<rect x="361.80" y="348.50" width="7" height="7" fill="#000"/>
<line x1="266.00" y1="294.50" x2="326.00" y2="347.90" stroke="#a8a8a8" stroke-width="1.8"/>
<polyline points="319.2,328.8 319.2,321.8 371.0,321.8 371.0,329.6" fill="none" stroke="#000" stroke-width="1.9"/>
<line x1="342.30" y1="312.70" x2="349.70" y2="312.70" stroke="#000" stroke-width="1.5"/>
<line x1="346.00" y1="309.00" x2="346.00" y2="316.40" stroke="#000" stroke-width="1.5"/>
<text x="268.45" y="284.8" font-size="11.5" text-anchor="start" textLength="47.47" lengthAdjust="spacingAndGlyphs" fill="#000" stroke="#000" stroke-width="0.25">VCAM-1=</text>
<text x="319.49" y="284.8" font-size="11.5" text-anchor="start" textLength="32.05" lengthAdjust="spacingAndGlyphs" fill="#000" stroke="#000" stroke-width="0.25">-198.4</text>
<text x="353.19" y="284.8" font-size="11" text-anchor="start" textLength="4.13" lengthAdjust="spacingAndGlyphs" fill="#000" font-family="Liberation Serif" stroke="#000" stroke-width="0.25">τ</text>
<text x="357.33" y="284.8" font-size="11.5" text-anchor="start" textLength="35.47" lengthAdjust="spacingAndGlyphs" fill="#000" stroke="#000" stroke-width="0.25">+1023,</text>
<text x="398.22" y="284.8" font-size="11.5" text-anchor="start" textLength="8.86" lengthAdjust="spacingAndGlyphs" fill="#000" stroke="#000" stroke-width="0.25">R</text>
<text x="407.27" y="281.4" font-size="7.5" text-anchor="start" textLength="3.67" lengthAdjust="spacingAndGlyphs" fill="#000" stroke="#000" stroke-width="0.25">2</text>
<text x="411.13" y="284.8" font-size="11.5" text-anchor="start" textLength="28.84" lengthAdjust="spacingAndGlyphs" fill="#000" stroke="#000" stroke-width="0.25">=0.92</text>
<line x1="473.60" y1="278.30" x2="473.60" y2="371.90" stroke="#000" stroke-width="1.8"/>
<line x1="472.80" y1="367.40" x2="592.90" y2="367.40" stroke="#000" stroke-width="1.8"/>
<line x1="469.10" y1="296.52" x2="473.60" y2="296.52" stroke="#000" stroke-width="1.7"/>
<line x1="469.10" y1="331.96" x2="473.60" y2="331.96" stroke="#000" stroke-width="1.7"/>
<line x1="469.10" y1="367.40" x2="473.60" y2="367.40" stroke="#000" stroke-width="1.7"/>
<line x1="470.60" y1="349.68" x2="473.60" y2="349.68" stroke="#000" stroke-width="1.6"/>
<line x1="470.60" y1="314.24" x2="473.60" y2="314.24" stroke="#000" stroke-width="1.6"/>
<line x1="473.60" y1="367.40" x2="473.60" y2="371.90" stroke="#000" stroke-width="1.7"/>
<line x1="513.10" y1="367.40" x2="513.10" y2="371.90" stroke="#000" stroke-width="1.7"/>
<line x1="552.60" y1="367.40" x2="552.60" y2="371.90" stroke="#000" stroke-width="1.7"/>
<line x1="592.10" y1="367.40" x2="592.10" y2="371.90" stroke="#000" stroke-width="1.7"/>
<line x1="493.35" y1="367.40" x2="493.35" y2="370.40" stroke="#000" stroke-width="1.6"/>
<line x1="532.85" y1="367.40" x2="532.85" y2="370.40" stroke="#000" stroke-width="1.6"/>
<line x1="572.35" y1="367.40" x2="572.35" y2="370.40" stroke="#000" stroke-width="1.6"/>
<text x="470.0" y="302.42" font-size="15.5" font-weight="bold" text-anchor="end" textLength="24.2" lengthAdjust="spacingAndGlyphs" fill="#000" stroke="#000" stroke-width="0.3">400</text>
<text x="470.0" y="337.86" font-size="15.5" font-weight="bold" text-anchor="end" textLength="24.2" lengthAdjust="spacingAndGlyphs" fill="#000" stroke="#000" stroke-width="0.3">200</text>
<text x="470.0" y="373.3" font-size="15.5" font-weight="bold" text-anchor="end" textLength="8.3" lengthAdjust="spacingAndGlyphs" fill="#000" stroke="#000" stroke-width="0.3">0</text>
<text x="473.6" y="386.9" font-size="15.5" font-weight="bold" text-anchor="middle" fill="#000" stroke="#000" stroke-width="0.3">6</text>
<text x="513.1" y="386.9" font-size="15.5" font-weight="bold" text-anchor="middle" fill="#000" stroke="#000" stroke-width="0.3">7</text>
<text x="552.6" y="386.9" font-size="15.5" font-weight="bold" text-anchor="middle" fill="#000" stroke="#000" stroke-width="0.3">8</text>
<text x="592.1" y="386.9" font-size="15.5" font-weight="bold" text-anchor="middle" fill="#000" stroke="#000" stroke-width="0.3">9</text>
<line x1="494.50" y1="301.00" x2="494.50" y2="323.80" stroke="#000" stroke-width="2"/>
<line x1="489.50" y1="301.00" x2="499.50" y2="301.00" stroke="#000" stroke-width="2"/>
<line x1="489.50" y1="323.80" x2="499.50" y2="323.80" stroke="#000" stroke-width="2"/>
<line x1="504.30" y1="302.80" x2="504.30" y2="323.80" stroke="#000" stroke-width="2"/>
<line x1="499.30" y1="302.80" x2="509.30" y2="302.80" stroke="#000" stroke-width="2"/>
<line x1="499.30" y1="323.80" x2="509.30" y2="323.80" stroke="#000" stroke-width="2"/>
<line x1="512.80" y1="305.80" x2="512.80" y2="329.20" stroke="#000" stroke-width="2"/>
<line x1="507.80" y1="305.80" x2="517.80" y2="305.80" stroke="#000" stroke-width="2"/>
<line x1="507.80" y1="329.20" x2="517.80" y2="329.20" stroke="#000" stroke-width="2"/>
<line x1="521.80" y1="305.40" x2="521.80" y2="327.50" stroke="#000" stroke-width="2"/>
<line x1="516.80" y1="305.40" x2="526.80" y2="305.40" stroke="#000" stroke-width="2"/>
<line x1="516.80" y1="327.50" x2="526.80" y2="327.50" stroke="#000" stroke-width="2"/>
<line x1="530.40" y1="309.20" x2="530.40" y2="332.40" stroke="#000" stroke-width="2"/>
<line x1="525.40" y1="309.20" x2="535.40" y2="309.20" stroke="#000" stroke-width="2"/>
<line x1="525.40" y1="332.40" x2="535.40" y2="332.40" stroke="#000" stroke-width="2"/>
<line x1="539.30" y1="317.80" x2="539.30" y2="338.30" stroke="#000" stroke-width="2"/>
<line x1="534.30" y1="317.80" x2="544.30" y2="317.80" stroke="#000" stroke-width="2"/>
<line x1="534.30" y1="338.30" x2="544.30" y2="338.30" stroke="#000" stroke-width="2"/>
<line x1="548.20" y1="313.00" x2="548.20" y2="332.40" stroke="#000" stroke-width="2"/>
<line x1="543.20" y1="313.00" x2="553.20" y2="313.00" stroke="#000" stroke-width="2"/>
<line x1="543.20" y1="332.40" x2="553.20" y2="332.40" stroke="#000" stroke-width="2"/>
<line x1="556.80" y1="317.00" x2="556.80" y2="339.80" stroke="#000" stroke-width="2"/>
<line x1="551.80" y1="317.00" x2="561.80" y2="317.00" stroke="#000" stroke-width="2"/>
<line x1="551.80" y1="339.80" x2="561.80" y2="339.80" stroke="#000" stroke-width="2"/>
<line x1="565.50" y1="320.60" x2="565.50" y2="340.40" stroke="#000" stroke-width="2"/>
<line x1="560.50" y1="320.60" x2="570.50" y2="320.60" stroke="#000" stroke-width="2"/>
<line x1="560.50" y1="340.40" x2="570.50" y2="340.40" stroke="#000" stroke-width="2"/>
<line x1="574.50" y1="317.60" x2="574.50" y2="336.80" stroke="#000" stroke-width="2"/>
<line x1="569.50" y1="317.60" x2="579.50" y2="317.60" stroke="#000" stroke-width="2"/>
<line x1="569.50" y1="336.80" x2="579.50" y2="336.80" stroke="#000" stroke-width="2"/>
<line x1="583.20" y1="321.80" x2="583.20" y2="343.40" stroke="#000" stroke-width="2"/>
<line x1="578.20" y1="321.80" x2="588.20" y2="321.80" stroke="#000" stroke-width="2"/>
<line x1="578.20" y1="343.40" x2="588.20" y2="343.40" stroke="#000" stroke-width="2"/>
<line x1="591.90" y1="327.20" x2="591.90" y2="347.60" stroke="#000" stroke-width="2"/>
<line x1="586.90" y1="327.20" x2="596.90" y2="327.20" stroke="#000" stroke-width="2"/>
<line x1="586.90" y1="347.60" x2="596.90" y2="347.60" stroke="#000" stroke-width="2"/>
<rect x="489.70" y="308.20" width="9.6" height="9.6" fill="#fff"/>
<rect x="490.50" y="309.00" width="8" height="8" fill="#000"/>
<rect x="499.50" y="308.80" width="9.6" height="9.6" fill="#fff"/>
<rect x="500.30" y="309.60" width="8" height="8" fill="#000"/>
<rect x="508.00" y="314.20" width="9.6" height="9.6" fill="#fff"/>
<rect x="508.80" y="315.00" width="8" height="8" fill="#000"/>
<rect x="517.00" y="311.70" width="9.6" height="9.6" fill="#fff"/>
<rect x="517.80" y="312.50" width="8" height="8" fill="#000"/>
<rect x="525.60" y="317.70" width="9.6" height="9.6" fill="#fff"/>
<rect x="526.40" y="318.50" width="8" height="8" fill="#000"/>
<rect x="534.50" y="323.00" width="9.6" height="9.6" fill="#fff"/>
<rect x="535.30" y="323.80" width="8" height="8" fill="#000"/>
<rect x="543.40" y="317.20" width="9.6" height="9.6" fill="#fff"/>
<rect x="544.20" y="318.00" width="8" height="8" fill="#000"/>
<rect x="552.00" y="324.70" width="9.6" height="9.6" fill="#fff"/>
<rect x="552.80" y="325.50" width="8" height="8" fill="#000"/>
<rect x="560.70" y="327.20" width="9.6" height="9.6" fill="#fff"/>
<rect x="561.50" y="328.00" width="8" height="8" fill="#000"/>
<rect x="569.70" y="322.70" width="9.6" height="9.6" fill="#fff"/>
<rect x="570.50" y="323.50" width="8" height="8" fill="#000"/>
<rect x="578.40" y="327.20" width="9.6" height="9.6" fill="#fff"/>
<rect x="579.20" y="328.00" width="8" height="8" fill="#000"/>
<rect x="587.10" y="332.90" width="9.6" height="9.6" fill="#fff"/>
<rect x="587.90" y="333.70" width="8" height="8" fill="#000"/>
<line x1="494.20" y1="312.40" x2="592.80" y2="336.20" stroke="#a8a8a8" stroke-width="1.8"/>
<text x="478.11" y="288.8" font-size="11.5" text-anchor="start" textLength="55.24" lengthAdjust="spacingAndGlyphs" fill="#000" stroke="#000" stroke-width="0.25">E-selectin=</text>
<text x="536.92" y="288.8" font-size="11.5" text-anchor="start" textLength="30.01" lengthAdjust="spacingAndGlyphs" fill="#000" stroke="#000" stroke-width="0.25">-54.27</text>
<text x="569.94" y="288.8" font-size="11" text-anchor="start" textLength="5.14" lengthAdjust="spacingAndGlyphs" fill="#000" font-family="Liberation Serif" stroke="#000" stroke-width="0.25">τ</text>
<text x="574.72" y="288.8" font-size="11.5" text-anchor="start" textLength="38.91" lengthAdjust="spacingAndGlyphs" fill="#000" stroke="#000" stroke-width="0.25">+655.7,</text>
<text x="616.15" y="288.8" font-size="11.5" text-anchor="start" textLength="8.62" lengthAdjust="spacingAndGlyphs" fill="#000" stroke="#000" stroke-width="0.25">R</text>
<text x="624.99" y="284.0" font-size="7.5" text-anchor="start" textLength="3.42" lengthAdjust="spacingAndGlyphs" fill="#000" stroke="#000" stroke-width="0.25">2</text>
<text x="628.74" y="288.8" font-size="11.5" text-anchor="start" textLength="28.52" lengthAdjust="spacingAndGlyphs" fill="#000" stroke="#000" stroke-width="0.25">=0.96</text>
<text x="49.4" y="250.33" font-size="17.97" text-anchor="start" textLength="5.53" lengthAdjust="spacingAndGlyphs" fill="#000" stroke="#000" stroke-width="0.3">(</text>
<text x="55.72" y="250.53" font-size="17.41" text-anchor="start" textLength="9.52" lengthAdjust="spacingAndGlyphs" fill="#000" stroke="#000" stroke-width="0.3">d</text>
<text x="66.92" y="250.33" font-size="17.97" text-anchor="start" textLength="5.03" lengthAdjust="spacingAndGlyphs" fill="#000" stroke="#000" stroke-width="0.3">)</text>
<text x="107.0" y="250.0" font-size="17" text-anchor="start" textLength="58.1" lengthAdjust="spacingAndGlyphs" fill="#000" stroke="#000" stroke-width="0.3">ICAM-1</text>
<text x="243.49" y="250.33" font-size="17.97" text-anchor="start" textLength="5.03" lengthAdjust="spacingAndGlyphs" fill="#000" stroke="#000" stroke-width="0.3">(</text>
<text x="248.93" y="250.52" font-size="18.18" text-anchor="start" textLength="10.65" lengthAdjust="spacingAndGlyphs" fill="#000" stroke="#000" stroke-width="0.3">e</text>
<text x="260.52" y="250.33" font-size="17.97" text-anchor="start" textLength="5.4" lengthAdjust="spacingAndGlyphs" fill="#000" stroke="#000" stroke-width="0.3">)</text>
<text x="303.3" y="250.2" font-size="17" text-anchor="start" textLength="65" lengthAdjust="spacingAndGlyphs" fill="#000" stroke="#000" stroke-width="0.3">VCAM-1</text>
<text x="457.09" y="250.49" font-size="18.61" text-anchor="start" textLength="5.03" lengthAdjust="spacingAndGlyphs" fill="#000" stroke="#000" stroke-width="0.3">(</text>
<text x="462.72" y="250.4" font-size="17.24" text-anchor="start" textLength="5.24" lengthAdjust="spacingAndGlyphs" fill="#000" stroke="#000" stroke-width="0.3">f</text>
<text x="469.13" y="250.49" font-size="18.61" text-anchor="start" textLength="4.78" lengthAdjust="spacingAndGlyphs" fill="#000" stroke="#000" stroke-width="0.3">)</text>
<text x="500.1" y="250.2" font-size="17" text-anchor="start" textLength="78.3" lengthAdjust="spacingAndGlyphs" fill="#000" stroke="#000" stroke-width="0.3">E-selectin</text>
<text x="18.4" y="378.0" font-size="15" font-weight="bold" text-anchor="start" textLength="115.5" lengthAdjust="spacingAndGlyphs" transform="rotate(-90 18.4 378.0)" fill="#000" stroke="#000" stroke-width="0.35">CAM Expression</text>
<text x="32.0" y="368.0" font-size="11" font-weight="bold" text-anchor="start" textLength="97.5" lengthAdjust="spacingAndGlyphs" transform="rotate(-90 32.0 368.0)" fill="#000" stroke="#000" stroke-width="0.5">(% of Control MFI)</text>
<text x="238.6" y="407.7" font-size="14" font-weight="bold" text-anchor="start" textLength="155.5" lengthAdjust="spacingAndGlyphs" fill="#000" stroke="#000" stroke-width="0.25">Shear Stress (dyne/cm</text>
<text x="396.7" y="402.2" font-size="9.5" font-weight="bold" text-anchor="start" fill="#000" stroke="#000" stroke-width="0.2">2</text>
<text x="402.8" y="407.7" font-size="14" font-weight="bold" text-anchor="start" fill="#000">)</text>
</svg>
</body></html>
